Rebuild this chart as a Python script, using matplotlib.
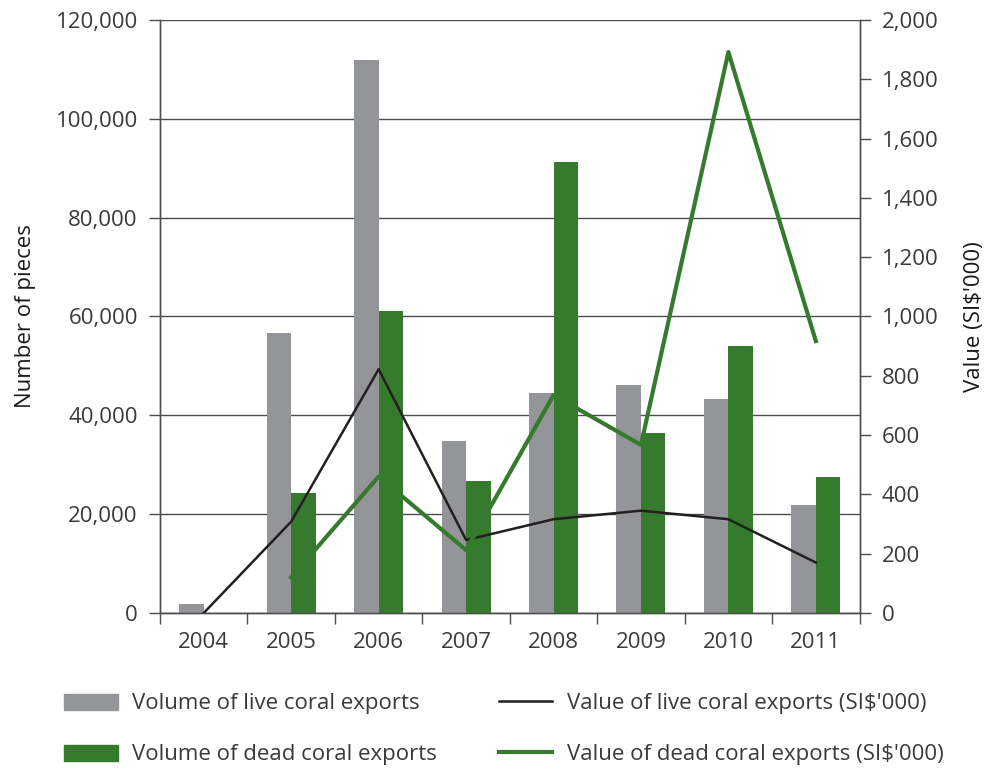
import numpy as np
import matplotlib
matplotlib.use("Agg")
import matplotlib.pyplot as plt
from matplotlib.patches import Patch
from matplotlib.lines import Line2D

plt.rcParams['font.family'] = ['Open Sans', 'DejaVu Sans']

years = ['2004', '2005', '2006', '2007', '2008', '2009', '2010', '2011']
live_volume = [1800, 56700, 111900, 34700, 44500, 46100, 43200, 21900]
dead_volume = [0, 24200, 61100, 26600, 91300, 36400, 54000, 27600]
live_value = [0, 308, 822, 246, 316, 345, 316, 170]
dead_value = [np.nan, 120, 460, 212, 735, 567, 1892, 917]

grey = '#939598'
green = '#367a2d'
axis_col = '#4d4d4f'
text_col = '#3a3a3a'
fs = 16

fig = plt.figure(figsize=(9.88, 7.7), dpi=100)
ax = fig.add_axes([0.162, 0.204, 0.708, 0.770])
ax2 = ax.twinx()

x = np.arange(len(years))
w = 0.28
ax.bar(x - w / 2, live_volume, w, color=grey, zorder=3)
ax.bar(x + w / 2, dead_volume, w, color=green, zorder=3)

ax2.plot(x, live_value, color='#231f20', lw=1.8, zorder=4)
ax2.plot(x, dead_value, color=green, lw=3, zorder=4)

ax.set_xlim(-0.5, len(years) - 0.5)
ax.set_ylim(0, 120000)
ax2.set_ylim(0, 2000)

ax.set_yticks(np.arange(0, 120001, 20000))
ax.set_yticklabels([f'{v:,}' for v in range(0, 120001, 20000)])
ax2.set_yticks(np.arange(0, 2001, 200))
ax2.set_yticklabels([f'{v:,}' for v in range(0, 2001, 200)])

ax.grid(axis='y', color=axis_col, lw=1, zorder=0)
ax.set_axisbelow(True)

# category ticks sit on the boundaries, labels in between
ax.set_xticks(np.arange(-0.5, len(years)), minor=False)
ax.set_xticklabels([])
ax.set_xticks(x, minor=True)
ax.set_xticklabels(years, minor=True)
ax.tick_params(axis='x', which='major', length=8, width=1, color=axis_col, direction='out')
ax.tick_params(axis='x', which='minor', length=0, pad=14, labelsize=fs, labelcolor=text_col)
ax.tick_params(axis='y', length=8, width=1, color=axis_col, labelsize=fs,
               labelcolor=text_col, pad=8)
ax2.tick_params(axis='y', length=8, width=1, color=axis_col, labelsize=fs,
                labelcolor=text_col, pad=8)

for a in (ax, ax2):
    a.spines['top'].set_visible(False)
    for s in ('left', 'right', 'bottom'):
        a.spines[s].set_color(axis_col)
        a.spines[s].set_linewidth(1)

ax.set_ylabel('Number of pieces', fontsize=fs, color='#1a1a1a', labelpad=14)
ax2.set_ylabel("Value (SI$'000)", fontsize=fs, color='#1a1a1a', labelpad=18)

handles = [
    Patch(color=grey),
    Patch(color=green),
    Line2D([], [], color='#231f20', lw=1.8),
    Line2D([], [], color=green, lw=3),
]
labels = [
    'Volume of live coral exports',
    'Volume of dead coral exports',
    "Value of live coral exports (SI$'000)",
    "Value of dead coral exports (SI$'000)",
]
fig.legend(handles, labels, loc='upper left', bbox_to_anchor=(0.056, 0.111),
           ncol=2, frameon=False, fontsize=fs, labelcolor=text_col,
           handlelength=2.4, handleheight=0.75, labelspacing=1.35,
           columnspacing=2.8, handletextpad=0.65, borderaxespad=0)

fig.savefig('out.png', dpi=100)
